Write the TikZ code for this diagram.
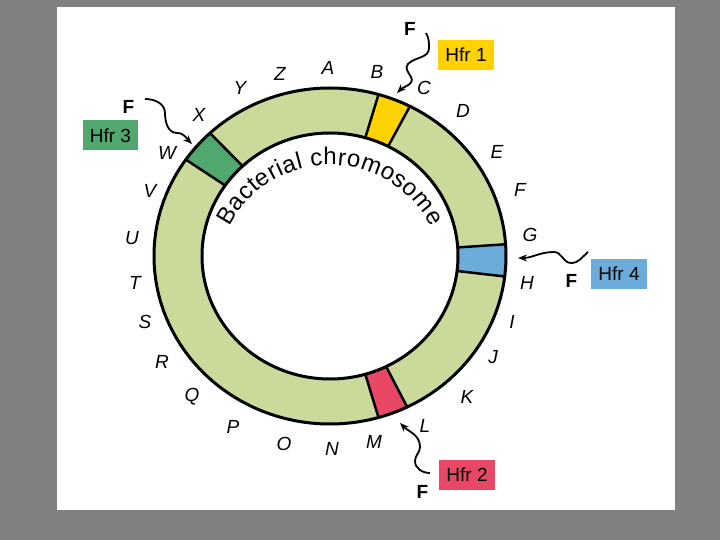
\documentclass[tikz,border=0pt]{standalone}
\usepackage{fontspec}
\setmainfont{Liberation Sans}
\usetikzlibrary{arrows.meta,decorations.text}

\definecolor{bggray}{RGB}{128,128,128}
\definecolor{ringgreen}{RGB}{202,218,155}
\definecolor{hfryellow}{RGB}{255,210,0}
\definecolor{hfrgreen}{RGB}{80,168,110}
\definecolor{hfrblue}{RGB}{107,172,218}
\definecolor{hfrred}{RGB}{232,72,102}
\newcommand\chromfont{\fontsize{24}{26}\selectfont}

\tikzset{
  gene/.style={font=\fontsize{19}{21}\selectfont\itshape},
  fact/.style={font=\fontsize{19}{21}\selectfont\bfseries},
  hfr/.style={font=\fontsize{19}{21}\selectfont, inner xsep=7pt, minimum height=30pt},
  wave/.style={line width=1.8pt, -{Stealth[length=9pt,width=7pt]}},
  seg/.style={line width=2.5pt}
}

\begin{document}
\begin{tikzpicture}[x=1pt,y=1pt]
        \fill[bggray] (-330,-284) rectangle (390,256);
        \fill[white] (-273,-254) rectangle (345,249);
        \useasboundingbox (-330,-284) rectangle (390,256);

        \fill[ringgreen, even odd rule] (0,0) ellipse [x radius=176, y radius=168]
            (0,0) ellipse [x radius=128, y radius=123];
        \foreach \a/\b/\c in {63/74/hfryellow, 133/145/hfrgreen, -7/4/hfrblue, -74/-64/hfrred}
            \fill[\c] (\a:176pt and 168pt) arc[start angle=\a, end angle=\b, x radius=176, y radius=168]
                -- (\b:128pt and 123pt) arc[start angle=\b, end angle=\a, x radius=128, y radius=123] -- cycle;
        \foreach \a in {63,74,133,145,-7,4,-74,-64}
            \draw[seg] (\a:128pt and 123pt) -- (\a:176pt and 168pt);
        \draw[line width=3pt] (0,0) ellipse [x radius=176, y radius=168]
            (0,0) ellipse [x radius=128, y radius=123];

        \path[decorate, decoration={text along path, text={|\chromfont|Bacterial chromosome}, text align=fit to path}]
            ([shift={(0,-22)}]153:113pt) arc[start angle=153, end angle=27, radius=113];

        \foreach \l/\x/\y in {A/-2/188, B/47/184, C/94/168, D/133/145, E/167/104, F/190/66,
            G/200/21, H/197/-27, I/182/-66, J/163/-101, K/137/-141, L/95/-170, M/44/-186,
            N/2/-193, O/-46/-188, P/-97/-171, Q/-138/-141, R/-168/-106, S/-185/-66,
            T/-195/-27, U/-198/18, V/-180/65, W/-163/103, X/-131/141, Y/-90/168, Z/-50/182}
            \node[gene] (\l) at (\x,\y) {\l};

        \node[hfr, fill=hfryellow] (hfr1) at (136,201) {Hfr 1};
        \node[hfr, fill=hfrred] (hfr2) at (137,-218.5) {Hfr 2};
        \node[hfr, fill=hfrgreen] (hfr3) at (-219.5,120.5) {Hfr 3};
        \node[hfr, fill=hfrblue] (hfr4) at (289,-18) {Hfr 4};

        \node[fact] (F1) at (80,227) {F};
        \node[fact] (F2) at (92.5,-235.5) {F};
        \node[fact] (F3) at (-201.5,149.5) {F};
        \node[fact] (F4) at (241.5,-24.5) {F};

        \coordinate (w1) at (96,223);
        \coordinate (t1) at (67,163);
        \coordinate (w2) at (100,-217);
        \coordinate (t2) at (70,-167);
        \coordinate (w3) at (-185,157);
        \coordinate (t3) at (-138,112);
        \coordinate (w4) at (258,4);
        \coordinate (t4) at (188,-2);

        \draw[wave] (w1) to[out=-60,in=90] (99,208) to[out=-90,in=45] (78,192)
            to[out=-135,in=120] (81,179) to[out=-60,in=45] (t1);
        \draw[wave] (w2) to[out=180,in=-90] (85,-205) to[out=90,in=-90] (90,-191)
            to[out=90,in=-45] (t2);
        \draw[wave] (w3) to[out=0,in=90] (-165,143) to[out=-90,in=180] (-153,123)
            to[out=0,in=135] (t3);
        \draw[wave] (w4) to[out=-140,in=0] (241,-7) to[out=180,in=0] (224,4)
            to[out=180,in=0] (t4);
\end{tikzpicture}
\end{document}
